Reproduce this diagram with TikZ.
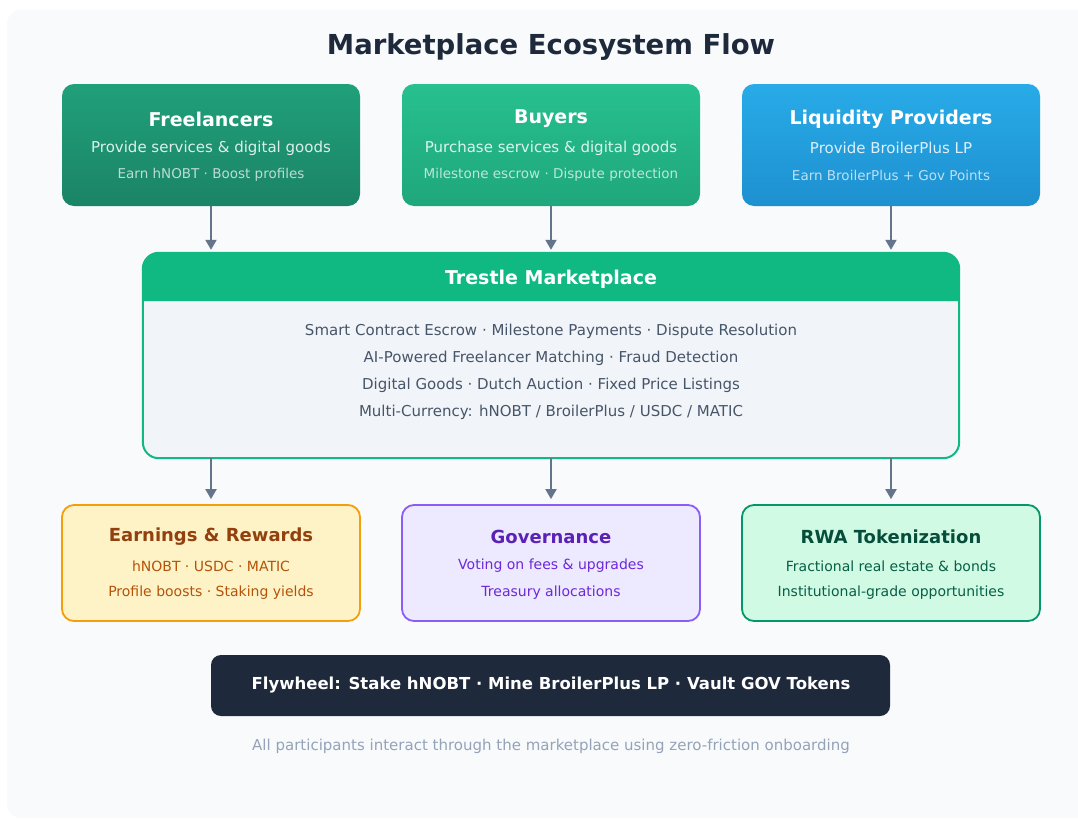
\documentclass[tikz,border=0pt]{standalone}
\usepackage{fontspec}
\setmainfont{DejaVu Sans}
\usetikzlibrary{arrows.meta}
\definecolor{panel}{HTML}{F8FAFC}
\definecolor{titlec}{HTML}{1E293B}
\definecolor{arrowc}{HTML}{64748B}
\definecolor{frtop}{HTML}{20A07A}
\definecolor{frbot}{HTML}{1B8466}
\definecolor{butop}{HTML}{27C08E}
\definecolor{bubot}{HTML}{1FA77C}
\definecolor{lptop}{HTML}{28ABE8}
\definecolor{lpbot}{HTML}{1E90D0}
\definecolor{emer}{HTML}{10B981}
\definecolor{bodyc}{HTML}{F1F5F9}
\definecolor{bodyt}{HTML}{475569}
\definecolor{earnf}{HTML}{FEF3C7}
\definecolor{earnd}{HTML}{F59E0B}
\definecolor{earnt}{HTML}{92400E}
\definecolor{earns}{HTML}{B45309}
\definecolor{govf}{HTML}{EDE9FE}
\definecolor{govd}{HTML}{8B5CF6}
\definecolor{govt}{HTML}{5B21B6}
\definecolor{govs}{HTML}{6D28D9}
\definecolor{rwaf}{HTML}{D1FAE5}
\definecolor{rwad}{HTML}{059669}
\definecolor{rwat}{HTML}{064E3B}
\definecolor{rwas}{HTML}{065F46}
\definecolor{footc}{HTML}{94A3B8}
\newcommand{\fsz}[1]{\fontsize{#1}{#1}\selectfont}
\begin{document}
\begin{tikzpicture}[x=1pt,y=-1pt,
  topbox/.style={rounded corners=12pt,minimum width=298pt,minimum height=122pt,inner sep=0pt},
  botbox/.style={rounded corners=12pt,minimum width=298pt,minimum height=116pt,inner sep=0pt,line width=1.8pt},
  ttl/.style={font=\fsz{19}\bfseries,text=white,inner sep=0pt},
  sub/.style={font=\fsz{15},text=white,text opacity=0.85,inner sep=0pt},
  sub2/.style={font=\fsz{13.5},text=white,text opacity=0.7,inner sep=0pt},
  btl/.style={font=\fsz{18}\bfseries,inner sep=0pt},
  bsub/.style={font=\fsz{14},inner sep=0pt},
  body/.style={font=\fsz{15},text=bodyt,inner sep=0pt},
  flow/.style={draw=arrowc,line width=2pt,-{Triangle[length=10pt,width=11pt]}}
]
\useasboundingbox (0,0) rectangle (1078,819);
\fill[white] (0,0) rectangle (1078,819);
\fill[panel,rounded corners=14pt] (7,10) rectangle (1092,818);
\node[font=\fsz{27.5}\bfseries,text=titlec,inner sep=0pt] (title) at (551,47) {Marketplace Ecosystem Flow};

% top boxes
\node[topbox,top color=frtop,bottom color=frbot] (fr) at (211,145) {};
\node[topbox,top color=butop,bottom color=bubot] (bu) at (551,145) {};
\node[topbox,top color=lptop,bottom color=lpbot] (lp) at (891,145) {};
\node[ttl] (frt) at (211,119) {Freelancers};
\node[sub] (frs) at (211,148) {Provide services \& digital goods};
\node[sub2] (frs2) at (211,175) {Earn hNOBT · Boost profiles};
\node[ttl] (but) at (551,119) {Buyers};
\node[sub] (bus) at (551,148) {Purchase services \& digital goods};
\node[sub2] (bus2) at (551,175) {Milestone escrow · Dispute protection};
\node[ttl] (lpt) at (891,119) {Liquidity Providers};
\node[sub] (lps) at (891,148) {Provide BroilerPlus LP};
\node[sub2] (lps2) at (891,175) {Earn BroilerPlus + Gov Points};

% marketplace
\node[rounded corners=16pt,minimum width=816pt,minimum height=205pt,fill=bodyc,inner sep=0pt] (tm) at (551,355.5) {};
\fill[emer] (tm.west |- 0,301) {[rounded corners=16pt] -- (tm.north west) -- (tm.north east)} -- (tm.east |- 0,301) -- cycle;
\draw[emer,line width=2pt,rounded corners=16pt] (tm.north west) rectangle (tm.south east);
\node[ttl] (tmt) at (551,279) {Trestle Marketplace};
\node[body] (l1) at (551,331) {Smart Contract Escrow · Milestone Payments · Dispute Resolution};
\node[body] (l2) at (551,358) {AI-Powered Freelancer Matching · Fraud Detection};
\node[body] (l3) at (551,385) {Digital Goods · Dutch Auction · Fixed Price Listings};
\node[body] (l4) at (551,412) {Multi-Currency: hNOBT / BroilerPlus / USDC / MATIC};

% bottom boxes
\node[botbox,fill=earnf,draw=earnd] (er) at (211,563) {};
\node[botbox,fill=govf,draw=govd] (gv) at (551,563) {};
\node[botbox,fill=rwaf,draw=rwad] (rw) at (891,563) {};
\node[btl,text=earnt] (ert) at (211,537) {Earnings \& Rewards};
\node[bsub,text=earns] (ers) at (211,566) {hNOBT · USDC · MATIC};
\node[bsub,text=earns] (ers2) at (211,593) {Profile boosts · Staking yields};
\node[btl,text=govt] (gvt) at (551,537) {Governance};
\node[bsub,text=govs] (gvs) at (551,566) {Voting on fees \& upgrades};
\node[bsub,text=govs] (gvs2) at (551,593) {Treasury allocations};
\node[btl,text=rwat] (rwt) at (891,537) {RWA Tokenization};
\node[bsub,text=rwas] (rws) at (891,566) {Fractional real estate \& bonds};
\node[bsub,text=rwas] (rws2) at (891,593) {Institutional-grade opportunities};

% flywheel
\node[rounded corners=10pt,fill=titlec,minimum width=679pt,minimum height=61pt,inner sep=0pt] (fw) at (550.5,685.5) {};
\node[font=\fsz{16.5}\bfseries,text=white,inner sep=0pt] (fwt) at (551,685) {Flywheel: Stake hNOBT · Mine BroilerPlus LP · Vault GOV Tokens};
\node[font=\fsz{15},text=footc,inner sep=0pt] (foot) at (551,746) {All participants interact through the marketplace using zero-friction onboarding};

% arrows
\draw[flow,shorten >=3pt] (fr.south) -- (fr.south |- tm.north);
\draw[flow,shorten >=3pt] (bu.south) -- (bu.south |- tm.north);
\draw[flow,shorten >=3pt] (lp.south) -- (lp.south |- tm.north);
\draw[flow,shorten >=5pt] (fr.south |- tm.south) -- (er.north);
\draw[flow,shorten >=5pt] (bu.south |- tm.south) -- (gv.north);
\draw[flow,shorten >=5pt] (lp.south |- tm.south) -- (rw.north);
\end{tikzpicture}
\end{document}
